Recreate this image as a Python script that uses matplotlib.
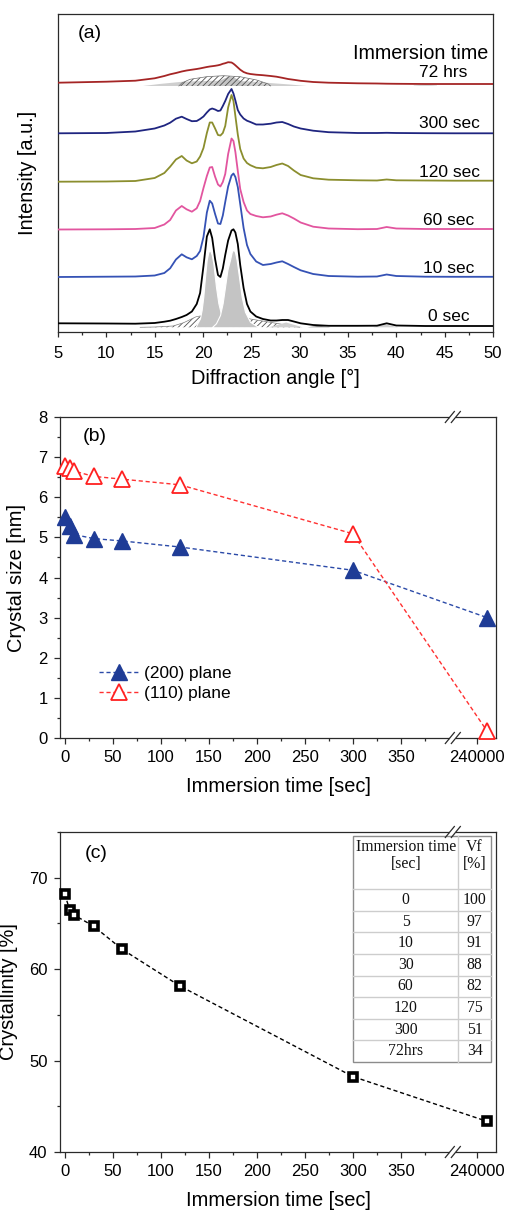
import numpy as np
import matplotlib
matplotlib.use("Agg")
import matplotlib.pyplot as plt
from matplotlib.ticker import MultipleLocator
from matplotlib.patches import Rectangle

plt.rcParams['font.family'] = ['Liberation Sans', 'DejaVu Sans']
plt.rcParams['hatch.linewidth'] = 0.6
plt.rcParams['axes.linewidth'] = 0.9

# ---------------- (a) XRD patterns (stacked intensity)
angle = [5, 10, 13, 15, 16, 16.6, 17.2, 17.8, 18.3, 18.85,
         19.35, 19.7, 20.05, 20.4, 20.7, 20.95, 21.25, 21.55, 21.8, 22.05,
         22.3, 22.6, 22.95, 23.15, 23.35, 23.6, 23.85, 24.2, 24.55, 24.9,
         25.5, 26.2, 27.0, 27.6, 28.2, 28.8, 29.4, 30.1, 31.4, 33,
         36, 38, 39, 40, 43, 46, 50]
xrd_0s = [8.7, 8.5, 8.3, 9, 10.3, 11.3, 13, 15, 17, 20.5,
          28, 39, 66, 95.5, 102.7, 94, 73, 57, 55, 63.5,
          77, 91.5, 101.5, 102.7, 99.5, 88, 67, 44, 28, 20.5,
          15.5, 13, 11.5, 11.5, 12, 12, 10.5, 8.7, 7, 6.2,
          6.2, 6.3, 8.7, 6.5, 6, 6, 6]
xrd_10s = [55, 55.3, 55.5, 56.5, 59, 63.7, 72.5, 77.7, 74.7, 72.7,
           76, 81, 95, 119.5, 131.3, 128.5, 118, 108.5, 108, 116.5,
           130, 145.5, 156.5, 158.5, 155, 145, 128, 104, 87, 78,
           70.5, 67, 68, 69.5, 70.7, 68, 65, 61.7, 58, 56,
           55.3, 55.5, 57.5, 56, 55.3, 55.2, 55.2]
xrd_60s = [102.5, 102.7, 103, 104, 107.5, 112, 121.5, 126, 122.7, 120.3,
           123.7, 131, 144, 156, 164.5, 165, 155.3, 147.5, 145.5, 150,
           158, 178, 193.5, 191, 180, 161, 143, 130, 121.5, 118,
           116, 114.7, 115.5, 117.3, 118.7, 116.5, 113.5, 109.5, 105.3, 103.5,
           102.8, 103, 105, 103.5, 103, 103, 103]
xrd_120s = [150.3, 150.5, 151, 154, 159, 165.3, 172.5, 176, 171.5, 168.7,
            170.5, 175.5, 184, 199, 209.5, 209.5, 203.5, 197, 196.5, 199,
            206, 224.5, 237, 231, 216, 197.5, 183, 173.5, 169, 166.8,
            164.3, 163.7, 165, 167, 168.5, 166, 161.5, 157, 153.7, 152.3,
            151.7, 151.5, 152.5, 151.7, 151.5, 151.3, 151.3]
xrd_300s = [198.7, 199, 200.5, 203.5, 206.5, 209.3, 213.3, 215.3, 213, 210.8,
            211, 213, 215.5, 219.5, 222.5, 223.5, 222.5, 221, 221.5, 226,
            231, 238, 243, 238.5, 231.5, 222, 217.5, 213.5, 211.3, 210,
            207.5, 207.5, 208.3, 209.5, 210, 208, 205.5, 203.5, 201.3, 199.8,
            199, 199, 199.2, 199, 198.8, 198.7, 198.7]
xrd_72h = [249.3, 250.3, 251.3, 253.7, 256, 257.7, 259, 260.5, 261.5, 262.3,
           263, 263.6, 264.3, 265, 265.5, 265.8, 266.2, 266.7, 267.3, 268.2,
           268.8, 269.8, 269.5, 268.3, 266.7, 264.5, 262.3, 260, 258.7, 258,
           257.3, 256.8, 256, 255.3, 254.2, 253, 252.2, 251.2, 250, 249.3,
           248.7, 248.5, 248.3, 248.2, 248, 248, 248]
curve_names = ['0 sec', '10 sec', '60 sec', '120 sec', '300 sec', '72 hrs']
curve_colors = ['#000000', '#3552b5', '#e2559f', '#8b8e2e', '#1f2580', '#a52525']

# deconvoluted peaks, 0 sec
base_0s = 4.7
amorph0_ang = [13.5, 15, 16.9, 18, 19.3, 21.5, 23.5, 24.9, 26.6, 28, 29, 30]
amorph0_val = [4.7, 5, 6, 9.3, 15.3, 19, 17, 13, 10.3, 8, 6, 4.7]
pk1_ang = [19.2, 19.69, 19.86, 20.03, 20.21, 20.38, 20.55, 20.72, 20.9, 21.07,
           21.34, 21.59, 21.93, 22.45, 22.9]
pk1_val = [4.7, 13.7, 22, 35.3, 55.3, 72, 80, 82, 77.5, 68.7,
           45.3, 28.7, 15.3, 7, 4.7]
pk2_ang = [20.9, 21.34, 21.76, 22.03, 22.28, 22.52, 22.79, 22.97, 23.14, 23.31,
           23.48, 23.72, 24.0, 24.34, 24.86, 25.55, 26]
pk2_val = [4.7, 8.7, 17, 28.7, 45.3, 62, 72, 80, 82.7, 80,
           72, 55.3, 35.3, 20.3, 10.3, 6, 4.7]
pk3_ang = [26.8, 28.6, 30.3]
pk3_val = [4.7, 9.5, 4.7]
pk4_ang = [30.8, 32, 33.2]
pk4_val = [4.7, 6.3, 4.7]
pk5_ang = [37.6, 38.9, 40.2]
pk5_val = [4.7, 7.5, 4.7]

# deconvoluted peaks, 72 hrs
base_72h = 246
broad72_ang = [13.8, 15.5, 17.9, 20, 22.5, 25, 27.3, 29, 30.7]
broad72_val = [246, 248, 250.3, 251, 251.5, 250.5, 248.7, 247.5, 246]
pk72_ang = [20.5, 21.5, 22.3, 22.8, 23.3, 24.1, 25]
pk72_val = [246, 250, 254, 255.5, 254, 250, 246]
amorph72_ang = [17.5, 17.8, 18.66, 20.38, 22.1, 23.83, 25.55, 26.76, 27]
amorph72_val = [246, 249, 252.7, 255.3, 256.3, 255.3, 252, 248, 246]
small72_ang = [41.8, 43, 44.2]
small72_val = [246.5, 247.5, 246.5]

# ---------------- (b) crystal size and (c) crystallinity
time_s = [0, 5, 10, 30, 60, 120, 300, 259200]
size_200 = [5.5, 5.28, 5.07, 4.97, 4.91, 4.76, 4.18, 3.0]
size_110 = [6.79, 6.74, 6.65, 6.52, 6.45, 6.31, 5.09, 0.17]
crystallinity = [68.2, 66.5, 65.9, 64.7, 62.15, 58.15, 48.25, 43.35]

tick_t = [0, 50, 100, 150, 200, 250, 300, 350, 240000]
tick_lbl = ['0', '50', '100', '150', '200', '250', '300', '350', '240000']
minor_t = [25, 75, 125, 175, 225, 275, 325, 375]

table_time = ['0', '5', '10', '30', '60', '120', '300', '72hrs']
table_vf = ['100', '97', '91', '88', '82', '75', '51', '34']

# broken time axis: linear up to ~400 s, then a short segment around 240000 s
CUT = 403.3
def fwd(t):
    t = np.asarray(t, dtype=float)
    return np.where(t < 192000, np.minimum(t, CUT), CUT + (t - 192000) / 1843.2)

def inv(u):
    u = np.asarray(u, dtype=float)
    return np.where(u <= CUT, u, 192000 + (u - CUT) * 1843.2)


W, H = 507, 1210
fig = plt.figure(figsize=(W / 100, H / 100), dpi=100)

def box(l, t, r, b):
    return [l / W, 1 - b / H, (r - l) / W, (b - t) / H]

ax_a = fig.add_axes(box(58, 14, 493, 332))
ax_b = fig.add_axes(box(60, 417, 496, 738))
ax_c = fig.add_axes(box(60, 832, 496, 1152))

LAB = 14.4
TCK = 12
frame = '#2a2a2a'

# ---------------- panel (a)
ax_a.fill_between(amorph0_ang, base_0s, amorph0_val, facecolor='white',
                  edgecolor='#505050', hatch='//////', lw=0, zorder=1)
ax_a.plot(amorph0_ang, amorph0_val, color='#808080', lw=0.5, zorder=1)
for a, v in [(pk3_ang, pk3_val), (pk5_ang, pk5_val)]:
    ax_a.fill_between(a, base_0s, v, facecolor='#cfcfcf', lw=0, zorder=1.5)
ax_a.fill_between(pk4_ang, base_0s, pk4_val, facecolor='#8a8a8a', lw=0, zorder=1.5)
for a, v in [(pk1_ang, pk1_val), (pk2_ang, pk2_val)]:
    ax_a.fill_between(a, base_0s, v, facecolor='#c4c4c4', edgecolor='white',
                      lw=0.8, zorder=2)

ax_a.fill_between(broad72_ang, base_72h, broad72_val, facecolor='#cfcfcf', lw=0, zorder=1)
ax_a.fill_between(small72_ang, base_72h, small72_val, facecolor='#d8d8d8', lw=0, zorder=1)
ax_a.fill_between(pk72_ang, base_72h, pk72_val, facecolor='#c4c4c4', lw=0, zorder=1.2)
ax_a.fill_between(amorph72_ang, base_72h, amorph72_val, facecolor='none',
                  edgecolor='#505050', hatch='//////', lw=0, zorder=1.4)
ax_a.plot(amorph72_ang, amorph72_val, color='#707070', lw=0.5, zorder=1.4)

curves = [xrd_0s, xrd_10s, xrd_60s, xrd_120s, xrd_300s, xrd_72h]
for vals, col in zip(curves, curve_colors):
    ax_a.plot(angle, vals, color=col, lw=1.3, zorder=3, solid_joinstyle='round')

label_x = [45.45, 45.45, 45.45, 45.45, 45.45, 44.85]
label_y = [15, 63, 111, 159, 208, 259]
for name, x, y in zip(curve_names, label_x, label_y):
    ax_a.text(x, y, name, ha='center', va='center', fontsize=12.5)
ax_a.text(49.5, 278, 'Immersion time', ha='right', va='center', fontsize=14.2)
ax_a.text(0.074, 0.94, '(a)', transform=ax_a.transAxes, ha='center', va='center', fontsize=14)

ax_a.set_xlim(5, 50)
ax_a.set_ylim(0, 318)
ax_a.set_yticks([])
ax_a.xaxis.set_major_locator(MultipleLocator(5))
ax_a.xaxis.set_minor_locator(MultipleLocator(2.5))
ax_a.tick_params(axis='x', which='major', direction='out', length=3.6, width=0.9,
                 labelsize=TCK, pad=6.4, color=frame)
ax_a.tick_params(axis='x', which='minor', direction='out', length=2.2, width=0.9, color=frame)
ax_a.set_xlabel('Diffraction angle [°]', fontsize=LAB)
ax_a.set_ylabel('Intensity [a.u.]', fontsize=LAB)
ax_a.xaxis.label.set_va('center')
ax_a.yaxis.label.set_va('center')
ax_a.xaxis.set_label_coords(0.5, -0.145)
ax_a.yaxis.set_label_coords(-0.069, 0.5)

# ---------------- panels (b), (c) shared styling
def break_marks(ax, xb, h):
    dx = 4.5 / 436
    dy = 5.5 / h
    off = 3.0 / 436
    for y in (0, 1):
        ax.plot([xb - off, xb + off], [y, y], transform=ax.transAxes, color='white',
                lw=3, clip_on=False, zorder=6, solid_capstyle='butt')
        for o in (-off, off):
            ax.plot([xb + o - dx, xb + o + dx], [y - dy, y + dy], transform=ax.transAxes,
                    color=frame, lw=0.9, clip_on=False, zorder=7)

for ax in (ax_b, ax_c):
    ax.set_xscale('function', functions=(fwd, inv))
    ax.set_xlim(-5, float(inv(449.0)))
    ax.set_xticks(tick_t, labels=tick_lbl)
    ax.set_xticks(minor_t, minor=True)
    ax.tick_params(axis='both', which='major', direction='out', length=4, width=0.9,
                   labelsize=TCK, pad=5, color=frame)
    ax.tick_params(axis='both', which='minor', direction='out', length=2.2, width=0.9, color=frame)
    ax.set_xlabel('Immersion time [sec]', fontsize=LAB)
    ax.xaxis.label.set_va('center')
    ax.yaxis.label.set_va('center')
    ax.xaxis.set_label_coords(0.5, -0.152)
    for s in ax.spines.values():
        s.set_color(frame)

# ---------------- panel (b)
ax_b.plot(time_s, size_200, ls=(0, (3, 2)), color='#2b4aa8', lw=1, marker='^', ms=11,
          mfc='#1f3c96', mec='#1f3c96', label='(200) plane', clip_on=False, zorder=3)
ax_b.plot(time_s, size_110, ls=(0, (3, 2)), color='#ff3030', lw=1, marker='^', ms=11,
          mfc='white', mec='#ff2020', mew=1.3, label='(110) plane', clip_on=False, zorder=4)
ax_b.set_ylim(0, 8)
ax_b.yaxis.set_major_locator(MultipleLocator(1))
ax_b.yaxis.set_minor_locator(MultipleLocator(0.5))
ax_b.set_ylabel('Crystal size [nm]', fontsize=LAB)
ax_b.yaxis.set_label_coords(-0.1, 0.5)
ax_b.text(0.08, 0.938, '(b)', transform=ax_b.transAxes, ha='center', va='center', fontsize=14)
ax_b.legend(loc='center left', bbox_to_anchor=(0.089, 0.17), frameon=False, fontsize=12.4,
            handlelength=2.3, handletextpad=0.3, labelspacing=0.25, borderpad=0,
            borderaxespad=0, numpoints=1)
break_marks(ax_b, 0.901, 321)

# ---------------- panel (c)
ax_c.plot(time_s, crystallinity, ls=(0, (3, 2)), color='black', lw=1, marker='s', ms=5.5,
          mfc='white', mec='black', mew=2.6, clip_on=False, zorder=3)
ax_c.set_ylim(40, 75)
ax_c.yaxis.set_major_locator(MultipleLocator(10))
ax_c.yaxis.set_minor_locator(MultipleLocator(5))
ax_c.set_ylabel('Crystallinity [%]', fontsize=LAB)
ax_c.yaxis.set_label_coords(-0.117, 0.5)
ax_c.text(0.084, 0.934, '(c)', transform=ax_c.transAxes, ha='center', va='center', fontsize=14)
break_marks(ax_c, 0.901, 320)

# inset table
tx0, tx1, txd = 0.672, 0.9885, 0.913
ty_top, ty_head, row_h = 0.9875, 0.821, 0.0675
ty_bot = ty_head - len(table_time) * row_h
col1, col2 = 0.793, 0.951
tfont = dict(family=['Liberation Serif', 'DejaVu Serif'], fontsize=11.3, color='#111111',
             ha='center', va='center', transform=ax_c.transAxes)
ax_c.add_patch(Rectangle((tx0, ty_bot), tx1 - tx0, ty_top - ty_bot, transform=ax_c.transAxes,
                         facecolor='white', edgecolor='#8c8c8c', lw=1, zorder=4))
for i in range(len(table_time)):
    y = ty_head - i * row_h
    ax_c.plot([tx0, tx1], [y, y], transform=ax_c.transAxes, color='#cdcdcd', lw=1, zorder=5)
ax_c.plot([txd, txd], [ty_bot, ty_top], transform=ax_c.transAxes, color='#cdcdcd', lw=1, zorder=5)
ax_c.text(col1, 0.927, 'Immersion time\n[sec]', linespacing=1.1, zorder=6, **tfont)
ax_c.text(col2, 0.927, 'Vf\n[%]', linespacing=1.1, zorder=6, **tfont)
for i, (t, v) in enumerate(zip(table_time, table_vf)):
    y = ty_head - (i + 0.5) * row_h
    ax_c.text(col1, y, t, zorder=6, **tfont)
    ax_c.text(col2, y, v, zorder=6, **tfont)

for s in ax_a.spines.values():
    s.set_color(frame)

fig.savefig('out.png', dpi=100)
